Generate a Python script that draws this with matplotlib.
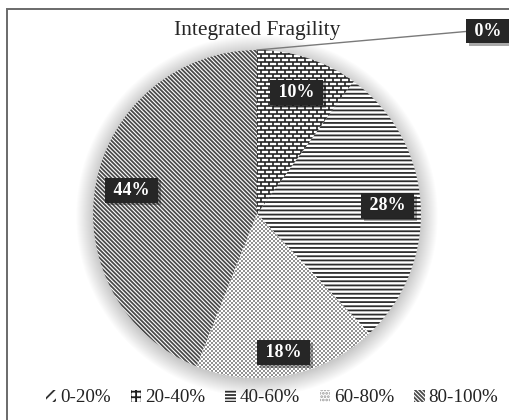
import numpy as np
import matplotlib
matplotlib.use('Agg')
import matplotlib.pyplot as plt
from matplotlib.patches import Patch, Circle, Rectangle
from matplotlib.collections import LineCollection
from matplotlib.colors import ListedColormap
import matplotlib.patheffects as pe

# data
categories = ['0-20%', '20-40%', '40-60%', '60-80%', '80-100%']
shares = [0, 10, 28, 18, 44]
title = 'Integrated Fragility'

plt.rcParams['font.family'] = ['Liberation Serif', 'DejaVu Serif']
plt.rcParams['hatch.linewidth'] = 1.3

W, H, DPI = 509, 420, 100
PX = 164.0            # pixels per data unit (pie radius)
CX, CY = 257, 214     # pie centre in pixels (from top-left)

fig = plt.figure(figsize=(W / DPI, H / DPI), dpi=DPI)
ax = fig.add_axes([0, 0, 1, 1])

# outer frame
fig.patches.append(Rectangle((7 / W, -0.1), 1.2, 1 - 9 / H + 0.1, transform=fig.transFigure,
                             fill=False, edgecolor='#6a6a6a', linewidth=1.4))

# soft glow behind the pie
for i in range(18):
    ax.add_patch(Circle((0.0, -0.012), 1.0 + 0.006 * i, color='k', alpha=0.011, lw=0, zorder=0))

hatches = ['///', None, '----', None, '\\' * 8]
hcolors = ['#333333', '#1e1e1e', '#2e2e2e', '#777777', '#4a4a4a']
wedges, _ = ax.pie(shares, startangle=90, counterclock=False, radius=1, center=(0, 0),
                   colors=['white'] * 5, hatch=hatches, frame=True,
                   wedgeprops=dict(linewidth=0))
for w, c in zip(wedges, hcolors):
    w.set_edgecolor(c)
    w.set_zorder(1)

# brick pattern for 20-40%
h = 4 / PX
bwid = 8 / PX
segs = []
for k in range(int(2 / h) + 2):
    y0 = -1 + k * h
    segs.append([(-1.05, y0), (1.05, y0)])
    x = -1 + (k % 2) * bwid / 2
    while x < 1.05:
        segs.append([(x, y0), (x, y0 + h)])
        x += bwid
lc = LineCollection(segs, colors='#1e1e1e', linewidths=1.15, zorder=2)
ax.add_collection(lc)
lc.set_clip_path(wedges[1])

# fine checker dots for 60-80%
n = 328
ii, jj = np.mgrid[0:n, 0:n]
chk = ((ii // 2) + (jj // 2)) % 2
im = ax.imshow(chk, extent=(-1, 1, -1, 1), cmap=ListedColormap(['white', '#939393']),
               interpolation='nearest', zorder=2, origin='upper')
im.set_clip_path(wedges[3])

# value labels
label_r = [0.78, 0.78, 0.80, 0.86, 0.78]
box = dict(boxstyle='square,pad=0.22', facecolor='#262626', edgecolor='none')
shadow = [pe.SimplePatchShadow(offset=(2, -2), alpha=0.35), pe.Normal()]
for i, (w, v) in enumerate(zip(wedges, shares)):
    if v == 0:
        continue
    ang = np.deg2rad((w.theta1 + w.theta2) / 2)
    t = ax.text(label_r[i] * np.cos(ang), label_r[i] * np.sin(ang), f' {v}% ',
                ha='center', va='center', color='white', fontsize=13, fontweight='bold',
                bbox=box, zorder=5)
    t.get_bbox_patch().set_path_effects(shadow)

# zero share label with leader line
zx, zy = (488 - CX) / PX, (CY - 31) / PX
ax.plot([0, zx - 0.1], [1.0, zy], color='#7a7a7a', lw=1.0, zorder=3)
t = ax.text(zx, zy, f' {shares[0]}% ', ha='center', va='center', color='white',
            fontsize=13, fontweight='bold', bbox=box, zorder=5, clip_on=False)
t.get_bbox_patch().set_path_effects(shadow)

ax.text(0, (CY - 30) / PX, title, ha='center', va='center', fontsize=15.5, color='#262626')

handles = [Patch(facecolor='white', edgecolor=hcolors[0], hatch='///', linewidth=0),
           Patch(facecolor='white', edgecolor=hcolors[1], hatch='+++', linewidth=0),
           Patch(facecolor='white', edgecolor=hcolors[2], hatch='-----', linewidth=0),
           Patch(facecolor='white', edgecolor='#999999', hatch='.....', linewidth=0),
           Patch(facecolor='white', edgecolor=hcolors[4], hatch='\\' * 8, linewidth=0)]
ax.legend(handles, categories, loc='center', bbox_to_anchor=(272 / W, 22 / H), ncol=5,
          frameon=False, fontsize=13.7, handlelength=0.55, handleheight=0.6,
          handletextpad=0.2, columnspacing=1.05, bbox_transform=fig.transFigure,
          labelcolor='#222222')

ax.set_xlim(-CX / PX, (W - CX) / PX)
ax.set_ylim(-(H - CY) / PX, CY / PX)
ax.set_aspect('auto')
ax.axis('off')

fig.savefig('out.png', dpi=DPI)
